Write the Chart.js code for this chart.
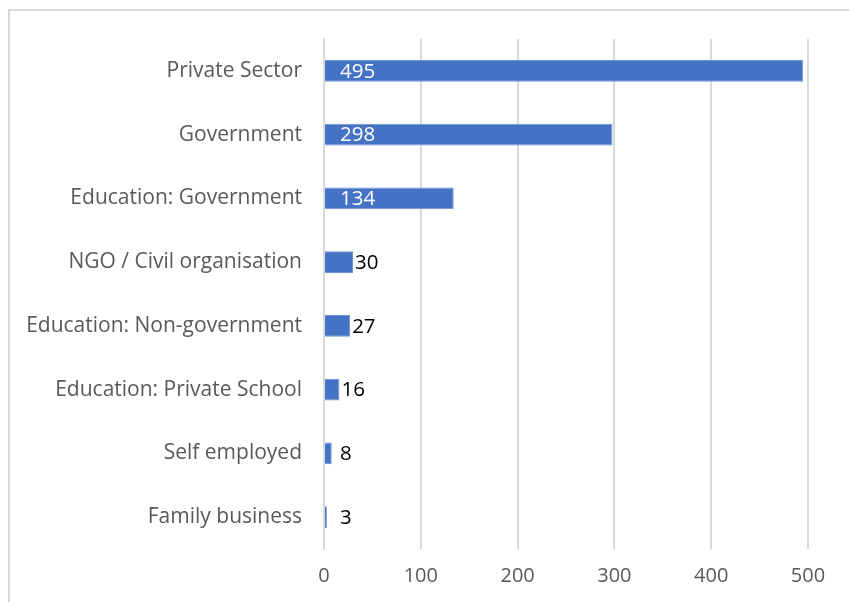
<!DOCTYPE html>
<html>
<head>
<meta charset="utf-8">
<script src="https://cdn.jsdelivr.net/npm/chart.js@4"></script>
<style>
html,body{margin:0;padding:0;background:#fff;}
#wrap{width:849px;height:602px;position:relative;}
</style>
</head>
<body>
<div id="wrap"><canvas id="c" width="849" height="602"></canvas></div>
<script>
const categories = ["Private Sector","Government","Education: Government","NGO / Civil organisation","Education: Non-government","Education: Private School","Self employed","Family business"];
const values = [495,298,134,30,27,16,8,3];
const xTicks = [0,100,200,300,400,500];

const FONT = "'Open Sans', 'Noto Sans', sans-serif";

const framePlugin = {
  id:'frame',
  beforeDraw(chart){
    const ctx = chart.ctx;
    ctx.save();
    ctx.fillStyle = '#fff';
    ctx.fillRect(0,0,chart.width,chart.height);
    ctx.strokeStyle = '#d9d9d9';
    ctx.lineWidth = 2;
    ctx.strokeRect(9,10,900,700);
    ctx.restore();
  }
};

const labelPlugin = {
  id:'dlabels',
  afterDatasetsDraw(chart){
    const ctx = chart.ctx;
    const meta = chart.getDatasetMeta(0);
    const xs = chart.scales.x;
    const base = xs.getPixelForValue(0);
    ctx.save();
    ctx.font = "20.5px " + FONT;
    ctx.textBaseline = 'middle';
    ctx.textAlign = 'left';
    meta.data.forEach((bar,i)=>{
      const v = values[i];
      const txt = String(v);
      const w = ctx.measureText(txt).width;
      const end = bar.x;
      let x;
      if (end - base > w + 24) {
        ctx.fillStyle = '#ffffff';
        x = base + 16;
      } else {
        ctx.fillStyle = '#000000';
        x = Math.max(end + 2, base + 16);
      }
      ctx.fillText(txt, x, bar.y + 1);
    });
    ctx.restore();
  }
};

new Chart(document.getElementById('c'),{
  type:'bar',
  data:{
    labels:categories,
    datasets:[{
      data:values,
      backgroundColor:'#4472C4',
      borderColor:'#6f93d3',
      borderWidth:{top:1,bottom:1,right:1,left:0},
      borderSkipped:'start',
      categoryPercentage:1,
      barPercentage:0.345
    }]
  },
  options:{
    indexAxis:'y',
    responsive:false,
    animation:false,
    devicePixelRatio:1,
    layout:{padding:{left:0,right:41,top:39,bottom:0}},
    plugins:{legend:{display:false},tooltip:{enabled:false}},
    scales:{
      x:{
        min:0,max:500,
        afterBuildTicks(s){ s.ticks = xTicks.map(v=>({value:v})); },
        afterFit(s){ s.height = 53; },
        grid:{color:'#d9d9d9',lineWidth:2,drawTicks:false},
        border:{display:false},
        ticks:{color:'#595959',font:{family:FONT,size:20},padding:15}
      },
      y:{
        afterFit(s){ s.width = 324; },
        grid:{display:false,drawTicks:false},
        border:{display:true,color:'#d9d9d9',width:2},
        ticks:{color:'#595959',font:{family:FONT,size:21},padding:22}
      }
    }
  },
  plugins:[framePlugin,labelPlugin]
});
</script>
</body>
</html>
